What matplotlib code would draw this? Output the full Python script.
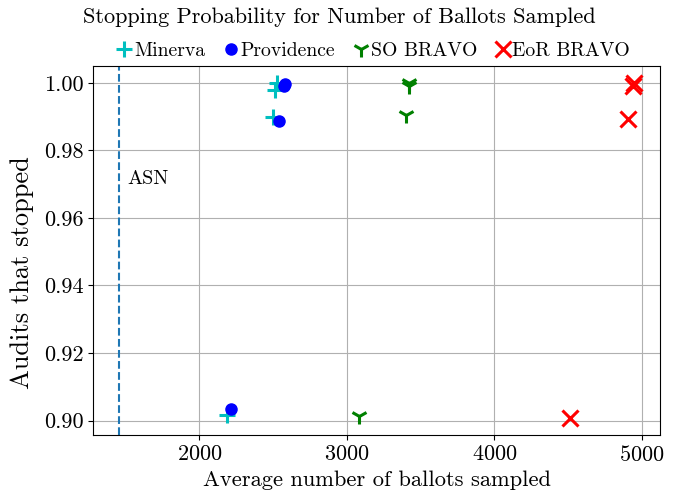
import matplotlib
matplotlib.use("Agg")
import matplotlib.pyplot as plt

plt.rcParams['font.family'] = 'serif'
plt.rcParams['font.serif'] = ['cmr10']
plt.rcParams['mathtext.fontset'] = 'cm'
plt.rcParams['axes.formatter.use_mathtext'] = True
plt.rcParams['axes.unicode_minus'] = False

asn = 1455

minerva_x = [2186, 2499, 2513, 2526]
minerva_y = [0.9016, 0.990, 0.998, 0.9999]
providence_x = [2215, 2540, 2575, 2580]
providence_y = [0.9035, 0.9887, 0.999, 0.9995]
so_x = [3081, 3400, 3418, 3422]
so_y = [0.9015, 0.9906, 0.999, 1.0]
eor_x = [4510, 4905, 4940, 4948]
eor_y = [0.9007, 0.9894, 0.999, 1.0]

fig = plt.figure(figsize=(6.78, 4.94), dpi=100)
ax = fig.add_axes([0.1376, 0.1194, 0.9735 - 0.1376, 0.8664 - 0.1194])

ax.plot(minerva_x, minerva_y, linestyle='none', marker='+', color='c', markersize=12, markeredgewidth=2.2, label='Minerva')
ax.plot(providence_x, providence_y, linestyle='none', marker='o', color='b', markersize=8, label='Providence')
ax.plot(so_x, so_y, linestyle='none', marker='1', color='g', markersize=12, markeredgewidth=2.2, label='SO BRAVO')
ax.plot(eor_x, eor_y, linestyle='none', marker='x', color='r', markersize=11, markeredgewidth=2.2, label='EoR BRAVO')

ax.axvline(asn, color='#1f77b4', linestyle='--', linewidth=1.5)
ax.text(asn + 55, 0.970, 'ASN', fontsize=14.5)

ax.grid(True, color='#b0b0b0', linewidth=0.8)
ax.set_axisbelow(True)
ax.set_xticks([2000, 3000, 4000, 5000])
ax.set_yticks([0.90, 0.92, 0.94, 0.96, 0.98, 1.00])
ax.set_yticklabels(['0.90', '0.92', '0.94', '0.96', '0.98', '1.00'])
ax.tick_params(labelsize=16)
ax.set_xlabel('Average number of ballots sampled', fontsize=16.2, labelpad=4)
ax.set_ylabel('Audits that stopped', fontsize=19)
ax.yaxis.set_label_coords(-0.104, 0.44)
fig.suptitle('Stopping Probability for Number of Ballots Sampled', fontsize=16, x=0.5, y=0.985)

ax.legend(loc='lower center', bbox_to_anchor=(0.492, 0.995), ncol=4, frameon=False,
          fontsize=14.2, handletextpad=0.0, columnspacing=0.8, borderaxespad=0.0, handlelength=1.0)

fig.savefig('out.png', dpi=100)
